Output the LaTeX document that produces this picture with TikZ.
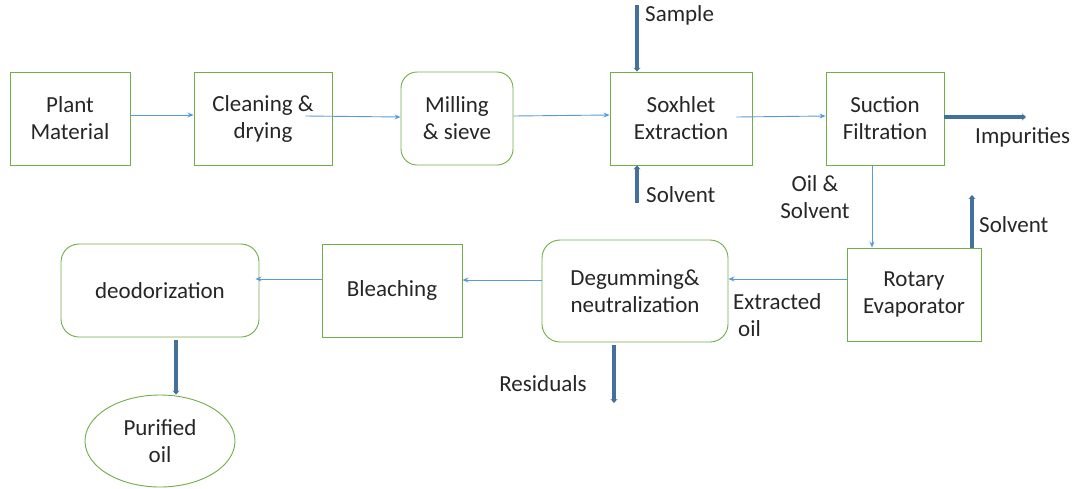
\documentclass[tikz,border=0pt]{standalone}
\usepackage{fontspec}
\setmainfont{Carlito}
\usetikzlibrary{arrows.meta,shapes.geometric}
\definecolor{boxgreen}{HTML}{70AD47}
\definecolor{thinblue}{HTML}{5B9BD5}
\definecolor{thickblue}{HTML}{41719C}
\begin{document}
\begin{tikzpicture}[x=1pt,y=-1pt,
  every node/.style={font=\fontsize{23}{27}\selectfont, text=black!85},
  procbox/.style={draw=boxgreen, line width=0.9pt, align=center, inner sep=0pt},
  roundbox/.style={procbox, rounded corners=16pt},
  flow/.style={draw=thinblue, line width=0.9pt, -{Stealth[length=6pt,width=5pt]}},
  stream/.style={draw=thickblue, line width=3.2pt, -{Stealth[length=4pt,width=7pt]}},
  lbl/.style={inner sep=0pt, align=center}
]
\useasboundingbox (0,0) rectangle (1076,488);

% process boxes
\node[procbox, minimum width=120pt, minimum height=93pt] (plant) at (70,118.5) {Plant\\Material};
\node[procbox, minimum width=138pt, minimum height=93pt] (clean) at (263,118.5) {Cleaning \&\\drying};
\node[roundbox, minimum width=112pt, minimum height=93pt] (mill) at (457,118.5) {Milling\\\& sieve};
\node[procbox, minimum width=142pt, minimum height=93pt] (soxh) at (681,118.5) {Soxhlet\\Extraction};
\node[procbox, minimum width=118pt, minimum height=93pt] (filt) at (885,118.5) {Suction\\Filtration};
\node[procbox, minimum width=134pt, minimum height=93pt] (rotary) at (914,294.5) {Rotary\\Evaporator};
\node[roundbox, rounded corners=18pt, minimum width=186pt, minimum height=102pt] (degum) at (635,291) {Degumming\&\\neutralization};
\node[procbox, minimum width=140pt, minimum height=93pt] (bleach) at (392,290.5) {Bleaching};
\node[roundbox, rounded corners=18pt, minimum width=198pt, minimum height=93pt] (deodor) at (160,290.5) {deodorization};
\node[draw=boxgreen, line width=0.9pt, ellipse, minimum width=150pt, minimum height=92pt, align=center, inner sep=0pt] (purified) at (160,441) {Purified\\oil};

% free ends
\coordinate (sampletop) at (637,5);
\coordinate (solvbot) at (637,203);
\coordinate (impend) at (1026,117);
\coordinate (solvtop) at (972,195);
\coordinate (resend) at (614,403);
\coordinate (oilx) at (872,0);
\coordinate (purx) at (176,0);

% thin flows
\draw[flow] (plant.east |- 0,115) -- (clean.west |- 0,115);
\draw[flow] ([xshift=-27pt]clean.east |- 0,116) -- (mill.west |- 0,117);
\draw[flow] (mill.east |- 0,116) -- (soxh.west |- 0,115);
\draw[flow] ([xshift=-16pt]soxh.east |- 0,117) -- (filt.west |- 0,116);
\draw[flow] (oilx |- filt.south) -- (oilx |- rotary.north);
\draw[flow] (rotary.west |- 0,279) -- (degum.east |- 0,279);
\draw[flow] (degum.west |- 0,280) -- (bleach.east |- 0,280);
\draw[flow] (bleach.west |- 0,279) -- ([xshift=-4pt]deodor.east |- 0,279);

% thick streams
\draw[stream] (sampletop) -- (sampletop |- soxh.north);
\draw[stream] (solvbot) -- (solvbot |- soxh.south);
\draw[stream] (filt.east |- impend) -- (impend);
\draw[stream] (solvtop |- rotary.north) -- (solvtop);
\draw[stream] ([yshift=-3pt]resend |- degum.south) -- (resend);
\draw[stream] ([yshift=-3pt]purx |- deodor.south) -- (purx |- purified.north);

% labels
\node[lbl, anchor=west] (lsample) at (645,15) {Sample};
\node[lbl, anchor=west] (lsolv1) at (646,195) {Solvent};
\node[lbl, anchor=west] (limp) at (975,137) {Impurities};
\node[lbl] (loil) at (815,197) {Oil \&\\Solvent};
\node[lbl, anchor=west] (lsolv2) at (979,225) {Solvent};
\node[lbl, anchor=west, align=left] (lext) at (733,315) {Extracted\\\hspace{5pt}oil};
\node[lbl] (lres) at (543,384) {Residuals};
\end{tikzpicture}
\end{document}
